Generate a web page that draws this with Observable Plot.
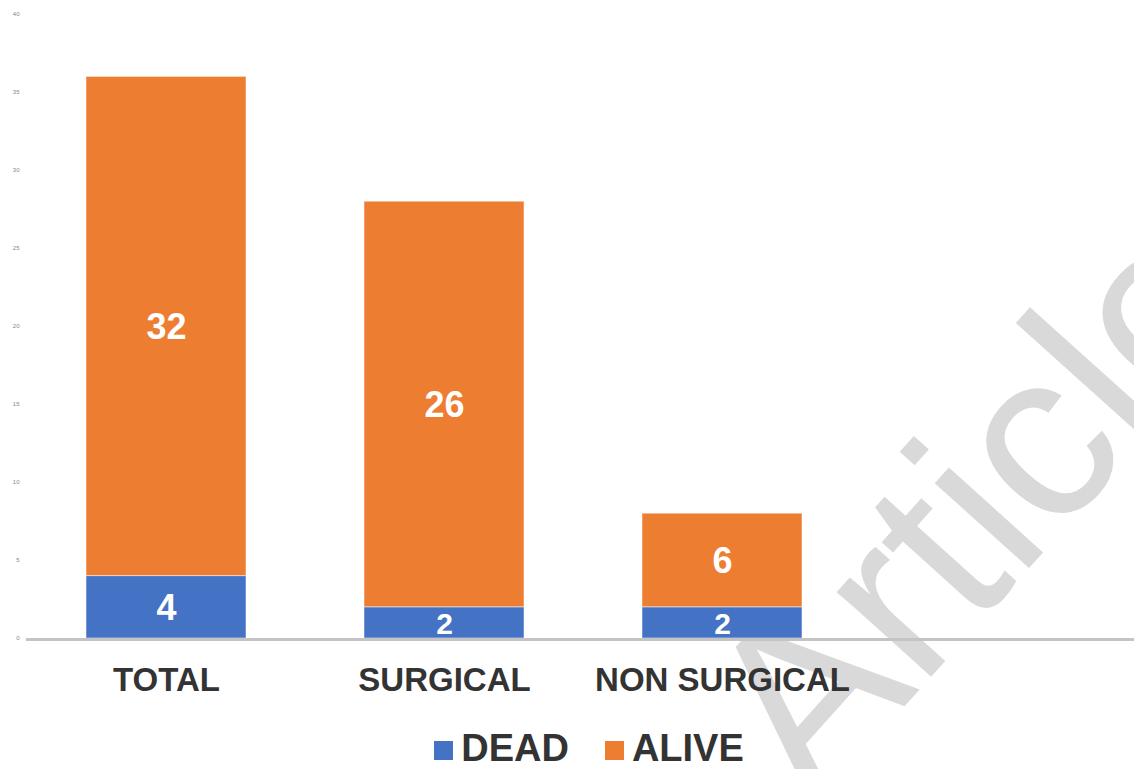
<!DOCTYPE html>
<html>
<head>
<meta charset="utf-8">
<script src="https://cdn.jsdelivr.net/npm/d3@7"></script>
<script src="https://cdn.jsdelivr.net/npm/@observablehq/plot@0.6"></script>
<style>
  html, body { margin: 0; padding: 0; background: #fff; }
  body { width: 1134px; height: 769px; position: relative; overflow: hidden; font-family: "Liberation Sans", Arial, sans-serif; }
  #wm { position: absolute; left: 0; top: 0; z-index: 0; pointer-events: none; }
  #chart { position: relative; z-index: 1; }
  #legend { position: relative; z-index: 1; display: flex; justify-content: center; align-items: center; padding-left: 44px; padding-top: 16px; height: 41px; font-size: 38px; font-weight: bold; color: #333; }
  .item { display: flex; align-items: center; }
  .sw { width: 19px; height: 19px; margin-right: 8px; margin-top: 4px; }
  .gap { width: 36px; }
</style>
</head>
<body>
<svg id="wm" width="1134" height="769">
  <text x="813" y="808" transform="rotate(-48 813 808)" font-family="Liberation Sans, Arial, sans-serif" font-size="240" fill="#d9d9d9">Article</text>
</svg>
<div id="chart"></div>
<div id="legend"></div>
<script>
const categories = ["TOTAL", "SURGICAL", "NON SURGICAL"];
const series = ["DEAD", "ALIVE"];
const deadValues = [4, 2, 2];
const aliveValues = [32, 26, 6];
const yTicks = [0, 5, 10, 15, 20, 25, 30, 35, 40];
const colors = ["#4472C4", "#ED7D31"];

const rows = [];
categories.forEach((c, i) => {
  rows.push({category: c, status: "DEAD", value: deadValues[i]});
  rows.push({category: c, status: "ALIVE", value: aliveValues[i]});
});

const chart = Plot.plot({
  width: 1134,
  height: 712,
  marginLeft: 26,
  marginRight: 0,
  marginTop: 14,
  marginBottom: 74,
  style: {background: "transparent", fontFamily: "Liberation Sans, Arial, sans-serif", color: "#333"},
  x: {domain: categories, range: [26, 861.5], paddingInner: 0.425, paddingOuter: 0.2125},
  y: {domain: [0, 40]},
  color: {domain: series, range: colors},
  marks: [
    Plot.barY(rows, {x: "category", y: "value", fill: "status", z: "status", order: series, stroke: "#fff", strokeOpacity: 0.5, strokeWidth: 1}),
    Plot.text(rows, Plot.stackY({x: "category", y: "value", z: "status", order: series, text: "value", fill: "white", fontWeight: "bold", fontSize: d => d.value <= 2 ? 30 : 36, dy: 1})),
    Plot.ruleY([0], {stroke: "#c4c4c4", strokeWidth: 3, dy: 1}),
    Plot.axisY({ticks: yTicks, tickSize: 0, tickPadding: 7, fontSize: 6, color: "#888", label: null}),
    Plot.axisX({tickSize: 0, tickPadding: 29, fontSize: 33, fontWeight: "bold", color: "#333", label: null})
  ]
});
document.getElementById("chart").appendChild(chart);

const legend = document.getElementById("legend");
series.forEach((s, i) => {
  if (i > 0) { const g = document.createElement("div"); g.className = "gap"; legend.appendChild(g); }
  const item = document.createElement("div");
  item.className = "item";
  const sw = document.createElement("div");
  sw.className = "sw";
  sw.style.background = colors[i];
  const t = document.createElement("span");
  t.textContent = s;
  item.appendChild(sw);
  item.appendChild(t);
  legend.appendChild(item);
});
</script>
</body>
</html>
